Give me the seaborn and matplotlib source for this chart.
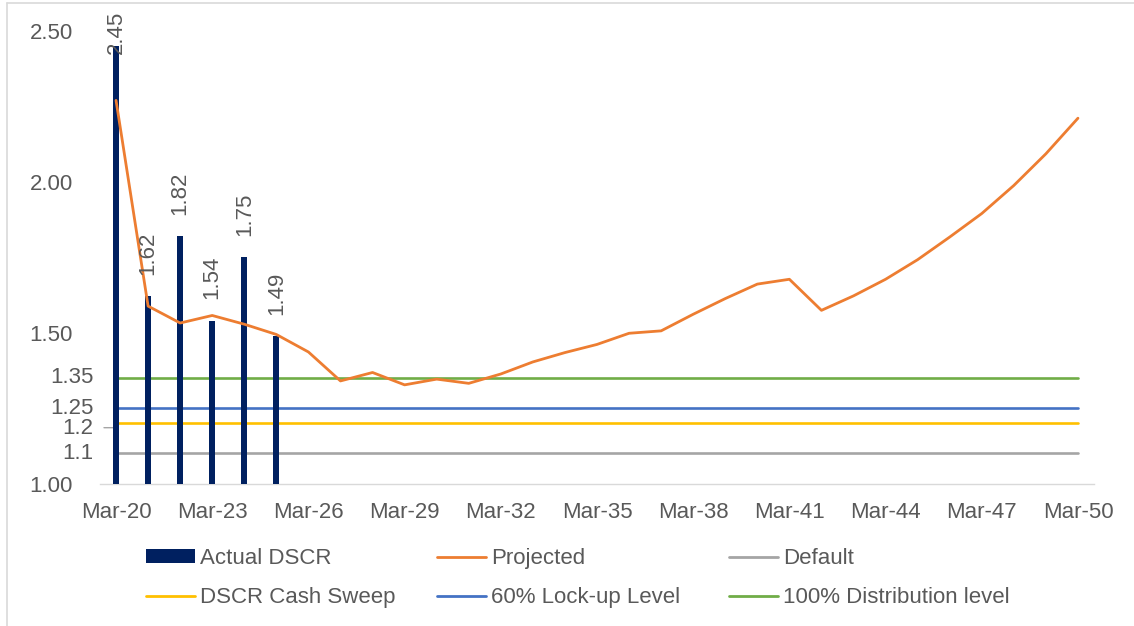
import matplotlib
matplotlib.use("Agg")
import matplotlib.pyplot as plt
import matplotlib.transforms as mtransforms
from matplotlib.lines import Line2D
from matplotlib.patches import Patch
import seaborn as sns

# ---------------- data ----------------
years = [2020, 2021, 2022, 2023, 2024, 2025, 2026, 2027, 2028, 2029, 2030,
         2031, 2032, 2033, 2034, 2035, 2036, 2037, 2038, 2039, 2040,
         2041, 2042, 2043, 2044, 2045, 2046, 2047, 2048, 2049, 2050]
projected = [2.27, 1.588, 1.532, 1.557, 1.528, 1.494, 1.436, 1.340, 1.368, 1.327, 1.346,
             1.332, 1.363, 1.403, 1.434, 1.461, 1.498, 1.506, 1.561, 1.613, 1.661,
             1.677, 1.574, 1.622, 1.677, 1.742, 1.817, 1.895, 1.988, 2.093, 2.211]
actual_years = [2020, 2021, 2022, 2023, 2024, 2025]
actual_dscr = [2.45, 1.62, 1.82, 1.54, 1.75, 1.49]

level_names = ["Default", "DSCR Cash Sweep", "60% Lock-up Level", "100% Distribution level"]
level_values = [1.1, 1.2, 1.25, 1.35]

tick_years = [2020, 2023, 2026, 2029, 2032, 2035, 2038, 2041, 2044, 2047, 2050]
tick_labels = ["Mar-20", "Mar-23", "Mar-26", "Mar-29", "Mar-32", "Mar-35",
               "Mar-38", "Mar-41", "Mar-44", "Mar-47", "Mar-50"]
main_yticks = [1.0, 1.5, 2.0, 2.5]
main_ytick_labels = ["1.00", "1.50", "2.00", "2.50"]
extra_ytick_values = [1.35, 1.25, 1.2, 1.1]
extra_ytick_labels = ["1.35", "1.25", "1.2", "1.1"]

# ---------------- style ----------------
C_BAR = "#002060"
C_PROJ = "#ED7D31"
level_colors = ["#A5A5A5", "#FFC000", "#4472C4", "#70AD47"]
TXT = "#595959"
FS = 16

sns.set_theme(style="white")
plt.rcParams["font.family"] = ["Liberation Sans", "DejaVu Sans"]

W, H = 1134, 626
fig = plt.figure(figsize=(W / 100, H / 100), dpi=100)
ax = fig.add_axes([100 / W, 1 - 483.5 / H, (1094 - 100) / W, (483.5 - 31) / H])

# threshold lines
for name, val, col in zip(level_names, level_values, level_colors):
    sns.lineplot(x=[years[0], years[-1]], y=[val, val], color=col, linewidth=1.9,
                 ax=ax, zorder=2)

# bars
sns.barplot(x=actual_years, y=actual_dscr, native_scale=True, width=0.19,
            color=C_BAR, saturation=1, linewidth=0, ax=ax, zorder=3)

# projected line
sns.lineplot(x=years, y=projected, color=C_PROJ, linewidth=2.0, ax=ax, zorder=4)

ax.set_xlim(years[0] - 0.5, years[-1] + 0.5)
ax.set_ylim(1.0, 2.5)

# bar labels
label_gap = 0.07
label_cap = 2.425
for x, v in zip(actual_years, actual_dscr):
    ax.text(x, min(v + label_gap, label_cap), f"{v:.2f}", rotation=90,
            ha="center", va="bottom", fontsize=FS, color=TXT, zorder=5)

# axes styling
ax.set_xticks(tick_years)
ax.set_xticklabels(tick_labels)
ax.set_yticks(main_yticks)
ax.set_yticklabels(main_ytick_labels)
ax.tick_params(axis="x", length=0, pad=13, labelsize=FS, labelcolor=TXT)
ax.tick_params(axis="y", length=0, pad=19.5, labelsize=FS, labelcolor=TXT)
for s in ["top", "right", "left"]:
    ax.spines[s].set_visible(False)
ax.spines["bottom"].set_color("#D9D9D9")
ax.spines["bottom"].set_linewidth(1.0)
ax.set_xlabel("")
ax.set_ylabel("")

# extra y labels for threshold levels
trans = mtransforms.blended_transform_factory(ax.transAxes, ax.transData)
for val, lab in zip(extra_ytick_values, extra_ytick_labels):
    dy = -4 if lab == "1.2" else 0
    ax.annotate(lab, xy=(0, val), xycoords=trans, xytext=(-4.5, dy),
                textcoords="offset points", ha="right", va="center",
                fontsize=FS, color=TXT, annotation_clip=False)
# small leader line for the 1.2 label
ax.plot([0.004, 0.014, 0.016], [1.185, 1.185, 1.2], transform=trans,
        color="#A5A5A5", linewidth=1.0, zorder=1, clip_on=False)

# legend (three columns of two entries each)
handles = {
    "Actual DSCR": Patch(facecolor=C_BAR, edgecolor="none"),
    "Projected": Line2D([], [], color=C_PROJ, linewidth=2.0),
    "Default": Line2D([], [], color=level_colors[0], linewidth=2.0),
    "DSCR Cash Sweep": Line2D([], [], color=level_colors[1], linewidth=2.0),
    "60% Lock-up Level": Line2D([], [], color=level_colors[2], linewidth=2.0),
    "100% Distribution level": Line2D([], [], color=level_colors[3], linewidth=2.0),
}
columns = [["Actual DSCR", "DSCR Cash Sweep"],
           ["Projected", "60% Lock-up Level"],
           ["Default", "100% Distribution level"]]
col_x = [146, 437, 729]
for cx, names in zip(col_x, columns):
    leg = fig.legend([handles[n] for n in names], names, loc="center left",
                     bbox_to_anchor=(cx / W, 1 - 578 / H), frameon=False,
                     fontsize=FS, handlelength=2.2, handleheight=0.55,
                     handletextpad=0.25, labelspacing=0.82,
                     borderpad=0, borderaxespad=0)
    for t in leg.get_texts():
        t.set_color(TXT)

# chart outer border (top and left visible)
fig.add_artist(Line2D([7 / W, 7 / W], [0, 1 - 3 / H], color="#D9D9D9", linewidth=1.2))
fig.add_artist(Line2D([7 / W, 1], [1 - 3 / H, 1 - 3 / H], color="#D9D9D9", linewidth=1.2))

fig.savefig("out.png", dpi=100)
